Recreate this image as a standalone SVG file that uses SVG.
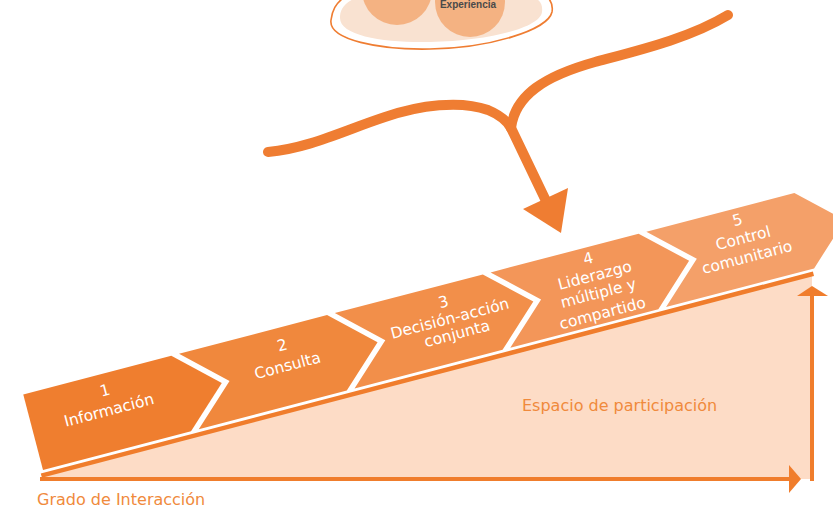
<svg xmlns="http://www.w3.org/2000/svg" width="833" height="508" viewBox="0 0 833 508">
<style>
.lbl{font-family:"DejaVu Sans",Verdana,sans-serif;font-size:15.5px;fill:#ffffff;text-anchor:middle}
.olbl{font-family:"DejaVu Sans",Verdana,sans-serif;font-size:16px;fill:#f08a3c}
.curve{fill:none;stroke:#ef7d32;stroke-width:10;stroke-linecap:round;stroke-linejoin:round}
.axis{fill:none;stroke:#f07d2c;stroke-width:4}
.head{fill:#f07d2c}
</style>
<rect width="833" height="508" fill="#ffffff"/>

<g id="experiencia">
  <path d="M331,20 C 328,40 380,50 430,49 C 490,48 548,30 552,12 C 555,-5 540,-20 440,-20 C 340,-20 333,5 331,20 Z" fill="#ffffff" stroke="#ef7d32" stroke-width="1.6"/>
  <path d="M340,18 C 340,36 385,43 430,42 C 488,41 540,28 542,12 C 544,-4 530,-12 440,-12 C 350,-12 340,4 340,18 Z" fill="#f9e2d1"/>
  <circle cx="397" cy="-10" r="35" fill="#f4b282"/>
  <circle cx="470" cy="2" r="35" fill="#f4b282"/>
  <text x="468" y="8" font-family="'Liberation Sans',Arial,sans-serif" font-size="10" font-weight="bold" fill="#4a4a4a" text-anchor="middle">Experiencia</text>
</g>

<g id="connectors">
  <path class="curve" d="M268,152 C 310,148 345,130 385,117 C 420,105 460,100 488,110 C 500,115 507,121 511,128"/>
  <path class="curve" d="M728,15 C 690,38 640,50 595,62 C 545,76 515,95 511,128"/>
  <path class="curve" d="M511,128 L 547,203" stroke-linecap="butt"/>
  <polygon points="523,209 568,188 561,233" fill="#ef7d32"/>
</g>

<g id="espacio">
  <polygon points="42,477 812,275 812,479 42,479" fill="#fddcc6"/>
  <text class="olbl" x="522" y="411">Espacio de participación</text>
</g>

<g id="ejes">
  <line class="axis" x1="40" y1="479" x2="792" y2="479"/>
  <polygon class="head" points="789,465 801,479 789,493"/>
  <line class="axis" x1="812" y1="481" x2="812" y2="293"/>
  <polygon class="head" points="797,296 812,286 828,296"/>
  <text class="olbl" x="37" y="505">Grado de Interacción</text>
</g>

<g transform="translate(43,470) rotate(-14.65)">
  <line x1="-3" y1="5" x2="795" y2="5" stroke="#f07d2c" stroke-width="4.5"/>
  <g id="paso1">
    <polygon points="0,0 0,-78 153,-78 195,-39 153,0" fill="#ef7e2f"/>
    <text class="lbl" x="80" y="-56">1</text>
    <text class="lbl" x="79" y="-36">Información</text>
  </g>
  <g id="paso2">
    <polygon points="161,0 203,-39 161,-78 314,-78 356,-39 314,0" fill="#f0883d"/>
    <text class="lbl" x="263" y="-55">2</text>
    <text class="lbl" x="263" y="-34">Consulta</text>
  </g>
  <g id="paso3">
    <polygon points="322,0 364,-39 322,-78 475,-78 517,-39 475,0" fill="#f28f4a"/>
    <text class="lbl" x="430" y="-56">3</text>
    <text class="lbl" x="432" y="-38.5">Decisión-acción</text>
    <text class="lbl" x="435" y="-22">conjunta</text>
  </g>
  <g id="paso4">
    <polygon points="483,0 525,-39 483,-78 636,-78 678,-39 636,0" fill="#f39659"/>
    <text class="lbl" x="581" y="-61.5">4</text>
    <text class="lbl" x="583" y="-43.5">Liderazgo</text>
    <text class="lbl" x="582" y="-25.5">múltiple y</text>
    <text class="lbl" x="581" y="-5">compartido</text>
  </g>
  <g id="paso5">
    <polygon points="644,0 686,-39 644,-78 797,-78 839,-39 797,0" fill="#f4a069"/>
    <text class="lbl" x="735" y="-61">5</text>
    <text class="lbl" x="736" y="-42">Control</text>
    <text class="lbl" x="735" y="-22.5">comunitario</text>
  </g>
</g>
</svg>
